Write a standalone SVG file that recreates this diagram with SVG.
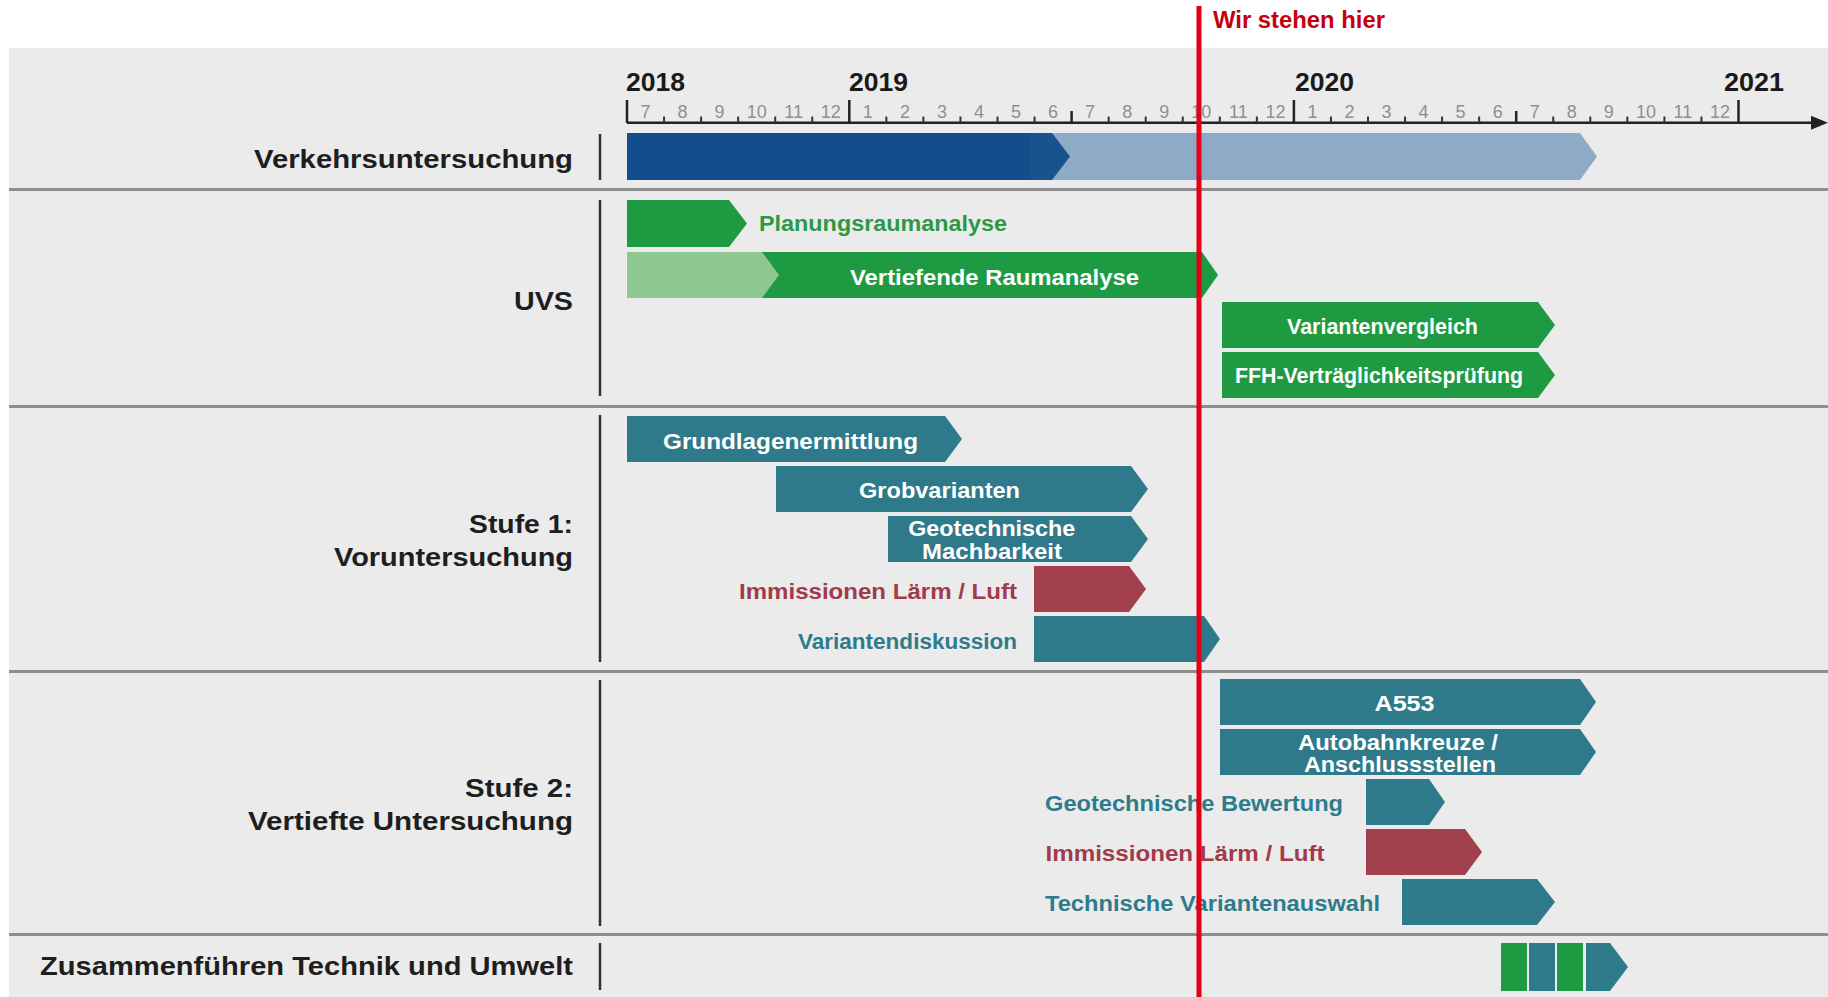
<svg xmlns="http://www.w3.org/2000/svg" width="1828" height="997" viewBox="0 0 1828 997">
<style>
.rowlbl{font-family:"Liberation Sans",Arial,sans-serif;font-weight:bold;font-size:26.5px;fill:#1e1e1e;text-anchor:end}
.year{font-family:"Liberation Sans",Arial,sans-serif;font-weight:bold;font-size:25px;fill:#1a1a1a}
.mon{font-family:"Liberation Sans",Arial,sans-serif;font-size:18px;fill:#8f8f8f;text-anchor:middle}
.bl{font-family:"Liberation Sans",Arial,sans-serif;font-weight:bold;font-size:22px;fill:#ffffff;text-anchor:middle}
.ol{font-family:"Liberation Sans",Arial,sans-serif;font-weight:bold;font-size:22px;text-anchor:end}
.sep{stroke:#8e8e8e;stroke-width:3}
.vl{stroke:#333;stroke-width:2.5}
.tk{stroke:#333;stroke-width:2}
.tkM{stroke:#222;stroke-width:2.5}
.teal{fill:#2f7a8a}
.green{fill:#1e9a43}
.red{fill:#a3404e}
</style>
<rect x="0" y="0" width="1828" height="997" fill="#ffffff"/>
<rect x="9" y="48" width="1819" height="949" fill="#ebebeb"/>
<g id="separators">
<line class="sep" x1="9" y1="189.5" x2="1828" y2="189.5"/>
<line class="sep" x1="9" y1="406.5" x2="1828" y2="406.5"/>
<line class="sep" x1="9" y1="671.5" x2="1828" y2="671.5"/>
<line class="sep" x1="9" y1="934.5" x2="1828" y2="934.5"/>
<line class="vl" x1="600" y1="134" x2="600" y2="180"/>
<line class="vl" x1="600" y1="200" x2="600" y2="396"/>
<line class="vl" x1="600" y1="415" x2="600" y2="662"/>
<line class="vl" x1="600" y1="680" x2="600" y2="926"/>
<line class="vl" x1="600" y1="943" x2="600" y2="990"/>
</g>
<g id="row-labels">
<text class="rowlbl" x="573" y="168" textLength="319" lengthAdjust="spacingAndGlyphs">Verkehrsuntersuchung</text>
<text class="rowlbl" x="573" y="309.5" textLength="59" lengthAdjust="spacingAndGlyphs">UVS</text>
<text class="rowlbl" x="573" y="533" textLength="104" lengthAdjust="spacingAndGlyphs">Stufe 1:</text>
<text class="rowlbl" x="573" y="566" textLength="239" lengthAdjust="spacingAndGlyphs">Voruntersuchung</text>
<text class="rowlbl" x="573" y="797" textLength="108" lengthAdjust="spacingAndGlyphs">Stufe 2:</text>
<text class="rowlbl" x="573" y="830" textLength="325" lengthAdjust="spacingAndGlyphs">Vertiefte Untersuchung</text>
<text class="rowlbl" x="573" y="975" textLength="533" lengthAdjust="spacingAndGlyphs">Zusammenführen Technik und Umwelt</text>
</g>
<g id="axis">
<line x1="627" y1="122.7" x2="1815" y2="122.7" stroke="#222" stroke-width="2.5"/>
<polygon points="1811,115.7 1828,122.7 1811,129.7" fill="#222"/>
<text class="year" x="626" y="91" textLength="59" lengthAdjust="spacingAndGlyphs">2018</text>
<text class="year" x="849" y="91" textLength="59" lengthAdjust="spacingAndGlyphs">2019</text>
<text class="year" x="1295" y="91" textLength="59" lengthAdjust="spacingAndGlyphs">2020</text>
<text class="year" x="1724" y="91" textLength="60" lengthAdjust="spacingAndGlyphs">2021</text>
<line class="tkM" x1="627" y1="100" x2="627" y2="123"/>
<line class="tk" x1="664.05" y1="116.5" x2="664.05" y2="123"/>
<line class="tk" x1="701.1" y1="116.5" x2="701.1" y2="123"/>
<line class="tk" x1="738.15" y1="116.5" x2="738.15" y2="123"/>
<line class="tk" x1="775.2" y1="116.5" x2="775.2" y2="123"/>
<line class="tk" x1="812.25" y1="116.5" x2="812.25" y2="123"/>
<line class="tkM" x1="849.3" y1="100" x2="849.3" y2="123"/>
<line class="tk" x1="886.35" y1="116.5" x2="886.35" y2="123"/>
<line class="tk" x1="923.4" y1="116.5" x2="923.4" y2="123"/>
<line class="tk" x1="960.45" y1="116.5" x2="960.45" y2="123"/>
<line class="tk" x1="997.5" y1="116.5" x2="997.5" y2="123"/>
<line class="tk" x1="1034.55" y1="116.5" x2="1034.55" y2="123"/>
<line class="tkM" x1="1071.6" y1="111" x2="1071.6" y2="123"/>
<line class="tk" x1="1108.65" y1="116.5" x2="1108.65" y2="123"/>
<line class="tk" x1="1145.7" y1="116.5" x2="1145.7" y2="123"/>
<line class="tk" x1="1182.75" y1="116.5" x2="1182.75" y2="123"/>
<line class="tk" x1="1219.8" y1="116.5" x2="1219.8" y2="123"/>
<line class="tk" x1="1256.85" y1="116.5" x2="1256.85" y2="123"/>
<line class="tkM" x1="1293.9" y1="100" x2="1293.9" y2="123"/>
<line class="tk" x1="1330.95" y1="116.5" x2="1330.95" y2="123"/>
<line class="tk" x1="1368" y1="116.5" x2="1368" y2="123"/>
<line class="tk" x1="1405.05" y1="116.5" x2="1405.05" y2="123"/>
<line class="tk" x1="1442.1" y1="116.5" x2="1442.1" y2="123"/>
<line class="tk" x1="1479.15" y1="116.5" x2="1479.15" y2="123"/>
<line class="tkM" x1="1516.2" y1="111" x2="1516.2" y2="123"/>
<line class="tk" x1="1553.25" y1="116.5" x2="1553.25" y2="123"/>
<line class="tk" x1="1590.3" y1="116.5" x2="1590.3" y2="123"/>
<line class="tk" x1="1627.35" y1="116.5" x2="1627.35" y2="123"/>
<line class="tk" x1="1664.4" y1="116.5" x2="1664.4" y2="123"/>
<line class="tk" x1="1701.45" y1="116.5" x2="1701.45" y2="123"/>
<line class="tkM" x1="1738.5" y1="100" x2="1738.5" y2="123"/>
<text class="mon" x="645.5" y="118">7</text>
<text class="mon" x="682.6" y="118">8</text>
<text class="mon" x="719.6" y="118">9</text>
<text class="mon" x="756.7" y="118">10</text>
<text class="mon" x="793.7" y="118">11</text>
<text class="mon" x="830.8" y="118">12</text>
<text class="mon" x="867.8" y="118">1</text>
<text class="mon" x="904.9" y="118">2</text>
<text class="mon" x="941.9" y="118">3</text>
<text class="mon" x="979" y="118">4</text>
<text class="mon" x="1016" y="118">5</text>
<text class="mon" x="1053.1" y="118">6</text>
<text class="mon" x="1090.1" y="118">7</text>
<text class="mon" x="1127.2" y="118">8</text>
<text class="mon" x="1164.2" y="118">9</text>
<text class="mon" x="1201.3" y="118">10</text>
<text class="mon" x="1238.3" y="118">11</text>
<text class="mon" x="1275.4" y="118">12</text>
<text class="mon" x="1312.4" y="118">1</text>
<text class="mon" x="1349.5" y="118">2</text>
<text class="mon" x="1386.5" y="118">3</text>
<text class="mon" x="1423.6" y="118">4</text>
<text class="mon" x="1460.6" y="118">5</text>
<text class="mon" x="1497.7" y="118">6</text>
<text class="mon" x="1534.7" y="118">7</text>
<text class="mon" x="1571.8" y="118">8</text>
<text class="mon" x="1608.8" y="118">9</text>
<text class="mon" x="1645.9" y="118">10</text>
<text class="mon" x="1682.9" y="118">11</text>
<text class="mon" x="1720" y="118">12</text>
</g>
<g id="connectors"></g>
<g id="verkehrsuntersuchung-bar">
<polygon points="1040,133 1580,133 1597,156.5 1580,180 1040,180" fill="#8daac7"/>
<polygon points="627,133 1031,133 1031,180 627,180" fill="#114e8b"/>
<polygon points="1031,133 1052,133 1070,156.5 1052,180 1031,180" fill="#18538f"/>
</g>
<g id="planungsraumanalyse">
<polygon class="green" points="627,200 729,200 747,223.5 729,247 627,247"/>
<text class="ol" x="1007" y="230.5" fill="#2b9848" textLength="248" lengthAdjust="spacingAndGlyphs">Planungsraumanalyse</text>
</g>
<g id="vertiefende-raumanalyse">
<polygon class="green" points="760,252 1202,252 1218,275 1202,298 760,298"/>
<polygon points="627,252 762,252 779,275 762,298 627,298" fill="#8ec78f"/>
<text class="bl" x="994.5" y="284.5" textLength="289" lengthAdjust="spacingAndGlyphs">Vertiefende Raumanalyse</text>
</g>
<g id="variantenvergleich">
<polygon class="green" points="1222,302 1538,302 1555,325 1538,348 1222,348"/>
<text class="bl" x="1382.5" y="333.5" textLength="191" lengthAdjust="spacingAndGlyphs">Variantenvergleich</text>
</g>
<g id="ffh-vertraeglichkeitspruefung">
<polygon class="green" points="1222,352 1538,352 1555,375 1538,398 1222,398"/>
<text class="bl" x="1379" y="382.5" textLength="288" lengthAdjust="spacingAndGlyphs">FFH-Verträglichkeitsprüfung</text>
</g>
<g id="grundlagenermittlung">
<polygon class="teal" points="627,416 945,416 962,439 945,462 627,462"/>
<text class="bl" x="790.5" y="448.5" textLength="255" lengthAdjust="spacingAndGlyphs">Grundlagenermittlung</text>
</g>
<g id="grobvarianten">
<polygon class="teal" points="776,466 1131,466 1148,489 1131,512 776,512"/>
<text class="bl" x="939.5" y="497.5" textLength="161" lengthAdjust="spacingAndGlyphs">Grobvarianten</text>
</g>
<g id="geotechnische-machbarkeit">
<polygon class="teal" points="888,516 1131,516 1148,539 1131,562 888,562"/>
<text class="bl" x="991.7" y="536" textLength="167" lengthAdjust="spacingAndGlyphs">Geotechnische</text>
<text class="bl" x="992" y="558.5" textLength="140" lengthAdjust="spacingAndGlyphs">Machbarkeit</text>
</g>
<g id="immissionen-1">
<polygon class="red" points="1034,566 1129,566 1146,589 1129,612 1034,612"/>
<text class="ol" x="1017" y="598.5" fill="#a13a4a" textLength="278" lengthAdjust="spacingAndGlyphs">Immissionen Lärm / Luft</text>
</g>
<g id="variantendiskussion">
<polygon class="teal" points="1034,616 1204,616 1220,639 1204,662 1034,662"/>
<text class="ol" x="1017" y="648.5" fill="#2e7b8b" textLength="219" lengthAdjust="spacingAndGlyphs">Variantendiskussion</text>
</g>
<g id="a553">
<polygon class="teal" points="1220,679 1580,679 1596,702 1580,725 1220,725"/>
<text class="bl" x="1404.5" y="710.5" textLength="60" lengthAdjust="spacingAndGlyphs">A553</text>
</g>
<g id="autobahnkreuze">
<polygon class="teal" points="1220,729 1580,729 1596,752 1580,775 1220,775"/>
<text class="bl" x="1398" y="749.5" textLength="200" lengthAdjust="spacingAndGlyphs">Autobahnkreuze /</text>
<text class="bl" x="1400" y="772" textLength="192" lengthAdjust="spacingAndGlyphs">Anschlussstellen</text>
</g>
<g id="geotechnische-bewertung">
<polygon class="teal" points="1366,779 1429,779 1445,802 1429,825 1366,825"/>
<text class="ol" x="1343" y="810.5" fill="#2e7b8b" textLength="298" lengthAdjust="spacingAndGlyphs">Geotechnische Bewertung</text>
</g>
<g id="immissionen-2">
<polygon class="red" points="1366,829 1465,829 1482,852 1465,875 1366,875"/>
<text class="ol" x="1324.5" y="860.5" fill="#a13a4a" textLength="279" lengthAdjust="spacingAndGlyphs">Immissionen Lärm / Luft</text>
</g>
<g id="technische-variantenauswahl">
<polygon class="teal" points="1402,879 1537,879 1555,902 1537,925 1402,925"/>
<text class="ol" x="1380" y="910.5" fill="#2e7b8b" textLength="335" lengthAdjust="spacingAndGlyphs">Technische Variantenauswahl</text>
</g>
<g id="zusammenfuehren">
<rect class="green" x="1501" y="943" width="26" height="48"/>
<rect class="teal" x="1529" y="943" width="26" height="48"/>
<rect class="green" x="1557" y="943" width="26" height="48"/>
<polygon class="teal" points="1586,943 1610,943 1628,967 1610,991 1586,991"/>
</g>
<g id="now-marker">
<rect x="1196.5" y="6" width="5" height="991" fill="#e30016"/>
<text x="1213" y="28" font-family="'Liberation Sans',Arial,sans-serif" font-weight="bold" font-size="23" fill="#c4000e" textLength="172" lengthAdjust="spacingAndGlyphs">Wir stehen hier</text>
</g>
</svg>
